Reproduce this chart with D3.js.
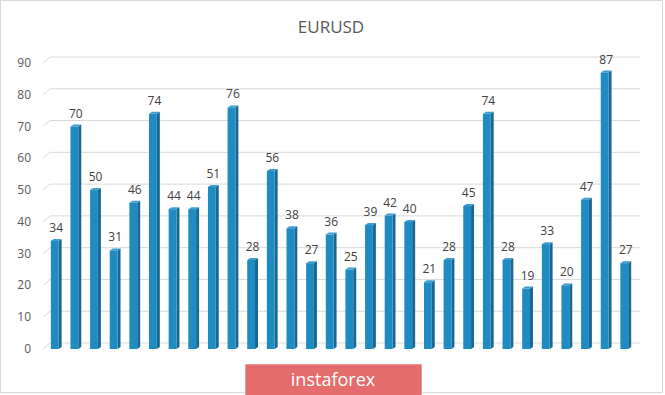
<!DOCTYPE html>
<html lang="en">
<head>
<meta charset="UTF-8">
<script src="https://d3js.org/d3.v7.min.js"></script>
<style>
  body { margin: 0; background: #fff; }
  text { font-family: "Open Sans", "DejaVu Sans", sans-serif; }
</style>
</head>
<body>
<div id="chart"></div>
<script>
  const title = "EURUSD";
  const values = [34, 70, 50, 31, 46, 74, 44, 44, 51, 76, 28, 56, 38, 27, 36, 25, 39, 42, 40, 21,
                  28, 45, 74, 28, 19, 33, 20, 47, 87, 27];
  const categories = values.map((d, i) => i + 1);
  const yTicks = [0, 10, 20, 30, 40, 50, 60, 70, 80, 90];

  const width = 665, height = 395;
  const depthX = 7, depthY = -6;   // 3d offset of back wall
  const side = 3;                  // bar side face width

  const svg = d3.select('#chart').append('svg')
      .attr('width', width)
      .attr('height', height);

  // chart frame
  svg.append('rect')
      .attr('x', 0.5).attr('y', 0.5)
      .attr('width', 662).attr('height', 392)
      .attr('fill', '#fff')
      .attr('stroke', '#d9d9d9');

  const x = d3.scaleBand()
      .domain(categories)
      .range([41, 641])
      .paddingInner(0.45)
      .paddingOuter(0.5);

  const y = d3.scaleLinear()
      .domain([0, 90])
      .range([349, 63]);

  // gridlines: short diagonal then along the back wall
  const grid = svg.append('g');
  yTicks.forEach(t => {
    grid.append('path')
        .attr('d', `M43,${y(t)} L${43 + depthX},${y(t) + depthY} L640,${y(t) + depthY}`)
        .attr('fill', 'none')
        .attr('stroke', '#d9d9d9')
        .attr('stroke-width', 1);
  });

  // y axis labels
  svg.append('g').selectAll('text')
    .data(yTicks)
    .join('text')
      .attr('x', 31)
      .attr('y', d => y(d) + 4)
      .attr('text-anchor', 'end')
      .attr('font-size', 12)
      .attr('fill', '#595959')
      .text(d => d);

  // bars
  const bars = svg.append('g').selectAll('g')
    .data(values)
    .join('g');

  const fw = x.bandwidth() - side;

  bars.append('path')   // side face
      .attr('d', (d, i) => {
        const x0 = x(categories[i]) + fw, y0 = y(d), yb = y(0);
        return `M${x0},${y0} L${x0 + side},${y0 - 2} L${x0 + side},${yb - 2} L${x0},${yb} Z`;
      })
      .attr('fill', '#1b678f');

  bars.append('path')   // top face
      .attr('d', (d, i) => {
        const x0 = x(categories[i]), y0 = y(d);
        return `M${x0},${y0} L${x0 + side},${y0 - 2} L${x0 + fw + side},${y0 - 2} L${x0 + fw},${y0} Z`;
      })
      .attr('fill', '#3a9ed0');

  bars.append('rect')   // front face
      .attr('x', (d, i) => x(categories[i]))
      .attr('y', d => y(d))
      .attr('width', fw)
      .attr('height', d => y(0) - y(d))
      .attr('fill', '#1e8bc3');

  // value labels
  bars.append('text')
      .attr('x', (d, i) => x(categories[i]) + x.bandwidth() / 2)
      .attr('y', d => y(d) - 9)
      .attr('text-anchor', 'middle')
      .attr('font-size', 12)
      .attr('fill', '#404040')
      .text(d => d);

  // title
  svg.append('text')
      .attr('x', 331)
      .attr('y', 33)
      .attr('text-anchor', 'middle')
      .attr('font-size', 17)
      .attr('fill', '#595959')
      .text(title);

  // watermark
  svg.append('rect')
      .attr('x', 245.5).attr('y', 364.5)
      .attr('width', 176).attr('height', 31)
      .attr('fill', '#e46c6c')
      .attr('stroke', '#ee9a9a');

  svg.append('text')
      .attr('x', 333)
      .attr('y', 386)
      .attr('text-anchor', 'middle')
      .attr('font-size', 18)
      .attr('fill', '#fff')
      .text('instaforex');
</script>
</body>
</html>
